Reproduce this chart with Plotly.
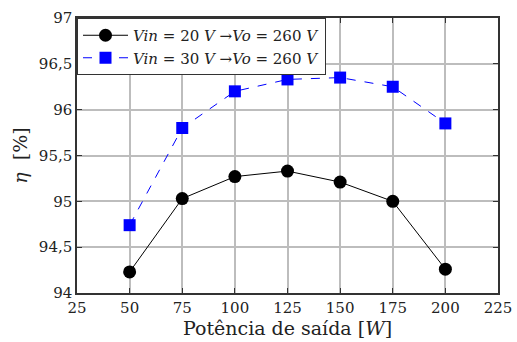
import plotly.graph_objects as go

potencia = [50, 75, 100, 125, 150, 175, 200]
eta_20v = [94.23, 95.03, 95.27, 95.33, 95.21, 95.00, 94.26]
eta_30v = [94.74, 95.80, 96.20, 96.33, 96.35, 96.25, 95.85]
x_ticks = [25, 50, 75, 100, 125, 150, 175, 200, 225]
y_ticks = [94, 94.5, 95, 95.5, 96, 96.5, 97]
y_ticktext = ["94", "94,5", "95", "95,5", "96", "96,5", "97"]

serif = "DejaVu Serif"

fig = go.Figure()
fig.add_trace(go.Scatter(
    x=potencia, y=eta_20v, mode="lines+markers",
    name="<i>Vin</i> = 20 <i>V</i> →<i>Vo</i> = 260 <i>V</i>",
    line=dict(color="black", width=1),
    marker=dict(symbol="circle", size=13, color="black"),
))
fig.add_trace(go.Scatter(
    x=potencia, y=eta_30v, mode="lines+markers",
    name="<i>Vin</i> = 30 <i>V</i> →<i>Vo</i> = 260 <i>V</i>",
    line=dict(color="blue", width=1, dash="dash"),
    marker=dict(symbol="square", size=12, color="blue"),
))

axis_common = dict(
    showgrid=True, gridcolor="#bdbdbd", gridwidth=1.5,
    showline=True, linecolor="#333", linewidth=1.5, mirror="ticks",
    ticks="inside", ticklen=5, tickcolor="#333", zeroline=False,
    automargin=False,
    tickfont=dict(family=serif, size=15, color="#222"),
)
fig.update_xaxes(range=[25, 225], tickvals=x_ticks,
                 title=dict(text="Potência de saída [<i>W</i>]",
                            font=dict(family=serif, size=19, color="#222"), standoff=2),
                 **axis_common)
fig.update_yaxes(range=[94, 97], tickvals=y_ticks, ticktext=y_ticktext,
                 title=dict(text="<i>η</i>  [%]",
                            font=dict(family=serif, size=19, color="#222"), standoff=6),
                 **axis_common)
fig.update_layout(
    width=517, height=342,
    font=dict(family=serif),
    margin=dict(l=77, r=19, t=18, b=49),
    plot_bgcolor="white", paper_bgcolor="white",
    legend=dict(x=0, y=1, xanchor="left", yanchor="top",
                bgcolor="white", bordercolor="#333", borderwidth=1,
                font=dict(family=serif, size=15, color="#222"),
                tracegroupgap=0, itemwidth=45),
)
fig.write_html("out.html", config={"displayModeBar": False},
               post_script="document.body.style.margin='0';")
